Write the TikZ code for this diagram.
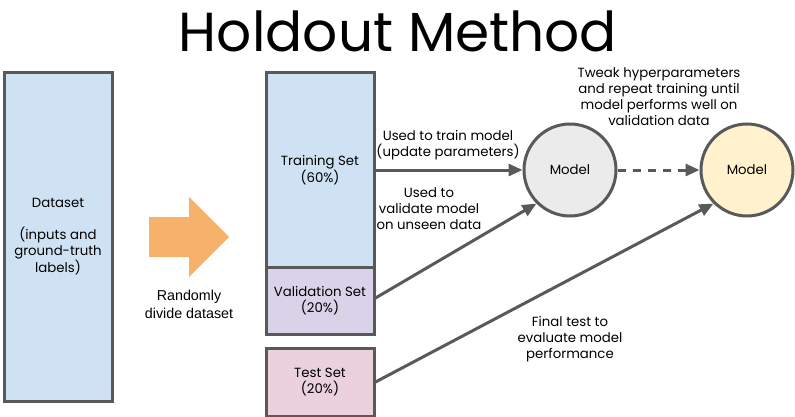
\documentclass[tikz,border=0pt]{standalone}
\usepackage{fontspec}
\setmainfont{Poppins}
\newfontfamily\arialfont{Liberation Sans}
\usetikzlibrary{arrows.meta}
\definecolor{bord}{HTML}{595959}
\definecolor{trainblue}{HTML}{CFE2F3}
\definecolor{valpurple}{HTML}{D9D2E9}
\definecolor{testpink}{HTML}{EAD1DC}
\definecolor{modgray}{HTML}{EBEBEB}
\definecolor{modyellow}{HTML}{FFF2CC}
\definecolor{orangearrow}{HTML}{F6B26B}
\tikzset{
  box/.style={draw=bord, line width=3pt, inner sep=0pt, align=center, font=\lbl},
  model/.style={circle, draw=bord, line width=3pt, minimum size=92pt, inner sep=0pt, font=\lbl},
  conn/.style={draw=bord, line width=3pt, -{Triangle[length=14pt,width=12pt]}},
  lab/.style={align=center, font=\lbl, inner sep=0pt}
}
\newcommand{\lbl}{\fontsize{13.3}{16}\selectfont}
\begin{document}
\begin{tikzpicture}[x=1pt,y=-1pt]
\useasboundingbox (0,0) rectangle (795,417);
% title
\node[inner sep=0pt, font=\fontsize{55}{60}\selectfont] (title) at (398,31) {Holdout Method};
% dataset
\node[box, fill=trainblue, minimum width=108pt, minimum height=328pt] (data) at (58,237)
  {Dataset\\[16pt](inputs and\\ground-truth\\labels)};
% orange arrow
\fill[orangearrow] (149,217) -- (189,217) -- (189,197) -- (229,237) -- (189,277) -- (189,257) -- (149,257) -- cycle;
\node[align=center, inner sep=0pt, font=\arialfont\fontsize{14.3}{18}\selectfont] (rand) at (189,304) {Randomly\\divide dataset};
% splits
\node[box, fill=trainblue, minimum width=108pt, minimum height=194pt] (train) at (320,170) {Training Set\\(60\%)};
\node[box, fill=valpurple, minimum width=108pt, minimum height=67pt] (val) at (320,300.5) {Validation Set\\(20\%)};
\node[box, fill=testpink, minimum width=108pt, minimum height=68pt] (test) at (320,382) {Test Set\\(20\%)};
% models
\node[model, fill=modgray] (m1) at (570,170) {Model};
\node[model, fill=modyellow] (m2) at (747,170) {Model};
% connectors
\draw[conn] (train.east |- m1.west) -- (m1.west);
\draw[conn] (val.east |- 0,298) -- (m1.225);
\draw[conn] (test.east) -- (m2.225);
\draw[conn, dash pattern=on 8pt off 7pt] (m1.east) -- (m2.west);
% labels
\node[lab] (l1) at (448,145) {Used to train model\\(update parameters)};
\node[lab] (l2) at (429,209) {Used to\\validate model\\on unseen data};
\node[lab] (l3) at (570,339) {Final test to\\evaluate model\\performance};
\node[lab] (l4) at (659,97) {Tweak hyperparameters\\and repeat training until\\model performs well on\\validation data};
\end{tikzpicture}
\end{document}
